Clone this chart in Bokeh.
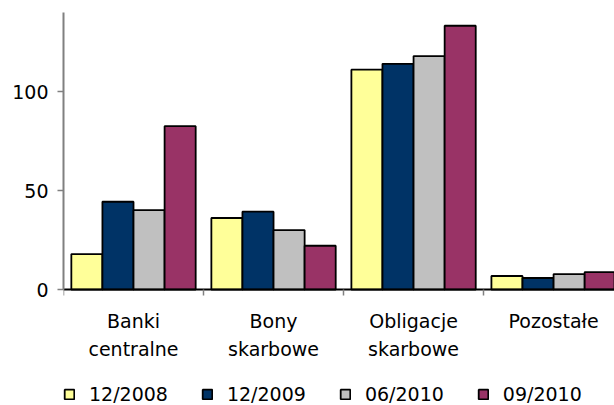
from bokeh.plotting import figure
from bokeh.models import Range1d, FixedTicker, Legend, LegendItem
from bokeh.embed import file_html
from bokeh.resources import INLINE

# ---- data ----
categories = ["Banki\ncentralne", "Bony\nskarbowe", "Obligacje\nskarbowe", "Pozostałe"]
series_names = ["12/2008", "12/2009", "06/2010", "09/2010"]
values_2008_12 = [18.0, 36.2, 111.1, 6.9]
values_2009_12 = [44.4, 39.4, 114.1, 5.9]
values_2010_06 = [40.2, 30.1, 118.0, 7.9]
values_2010_09 = [82.6, 22.2, 133.3, 8.9]
y_ticks = [0, 50, 100]

series_values = [values_2008_12, values_2009_12, values_2010_06, values_2010_09]
colors = ["#FFFF99", "#003366", "#C0C0C0", "#993366"]
FONT = "DejaVu Sans"
FS = "19px"
Y_MAX = 140

# the frame reaches the bottom of the canvas; the value axis spans 0..140,
# the space under 0 holds category labels and the legend
p = figure(width=614, height=405, output_backend="svg", toolbar_location=None,
           x_range=Range1d(0, 3.935), y_range=Range1d(-58.5, Y_MAX),
           min_border_left=63, min_border_right=0, min_border_top=12, min_border_bottom=0)
p.xgrid.visible = False
p.ygrid.visible = False
p.outline_line_color = None
p.background_fill_color = "white"
p.border_fill_color = "white"

bar_w = 0.222
offsets = [-1.5 * bar_w, -0.5 * bar_w, 0.5 * bar_w, 1.5 * bar_w]
centers = [i + 0.5 for i in range(len(categories))]

items = []
for name, vals, col, off in zip(series_names, series_values, colors, offsets):
    xs = [c + off for c in centers]
    r = p.vbar(x=xs, top=vals, width=bar_w, bottom=0, fill_color=col,
               line_color="black", line_width=1.8)
    items.append(LegendItem(label=name, renderers=[r]))

# x axis, drawn at value 0
xa = p.xaxis[0]
xa.fixed_location = 0
xa.ticker = FixedTicker(ticks=centers, minor_ticks=[float(i) for i in range(len(categories) + 1)])
xa.major_label_overrides = {c: lab for c, lab in zip(centers, categories)}
xa.major_tick_line_color = None
xa.minor_tick_line_color = "#808080"
xa.minor_tick_line_width = 1.5
xa.minor_tick_in = 0
xa.minor_tick_out = 6
xa.axis_line_color = "black"
xa.axis_line_width = 2
xa.major_label_text_font = FONT
xa.major_label_text_font_size = FS
xa.major_label_text_color = "black"
xa.major_label_text_line_height = 1.28
xa.major_label_standoff = 14

# y axis
ya = p.yaxis[0]
ya.bounds = (0, Y_MAX)
ya.ticker = FixedTicker(ticks=y_ticks)
ya.axis_line_color = "#808080"
ya.axis_line_width = 2
ya.major_tick_line_color = "#808080"
ya.major_tick_line_width = 1.5
ya.major_tick_in = 0
ya.major_tick_out = 6
ya.minor_tick_line_color = None
ya.major_label_text_font = FONT
ya.major_label_text_font_size = FS
ya.major_label_text_color = "black"
ya.major_label_standoff = 9

legend = Legend(items=items, orientation="horizontal", location=(0, 0),
                border_line_color=None, background_fill_alpha=0,
                glyph_width=12, glyph_height=12, label_standoff=14, spacing=33,
                padding=0, margin=0,
                label_text_font=FONT, label_text_font_size=FS, label_text_color="black")
p.add_layout(legend, "center")

open("out.html", "w").write(file_html(p, INLINE))
